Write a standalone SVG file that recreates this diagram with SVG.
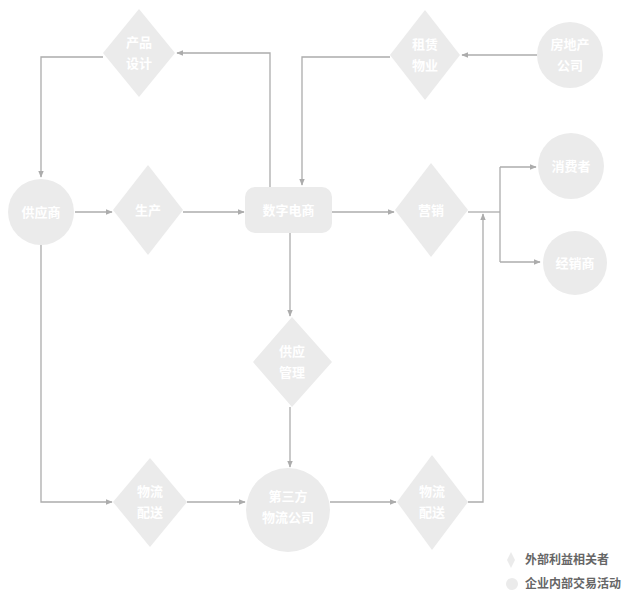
<svg xmlns="http://www.w3.org/2000/svg" width="635" height="592" viewBox="0 0 635 592">
<style>
.n{fill:#ebebeb;stroke:none}
.t{font-family:"Noto Sans CJK SC","Liberation Sans",sans-serif;font-size:13px;font-weight:bold;fill:#ffffff;text-anchor:middle}
.c{fill:none;stroke:#acacac;stroke-width:1.3}
.lg{font-family:"Noto Sans CJK SC","Liberation Sans",sans-serif;font-size:12px;font-weight:bold;fill:#666666}
</style>
<defs>
<marker id="a" viewBox="0 0 10 10" refX="9" refY="5" markerWidth="7" markerHeight="7" orient="auto-start-reverse" markerUnits="userSpaceOnUse">
<path d="M0,1 L10,5 L0,9 z" fill="#acacac"/>
</marker>
</defs>
<rect width="635" height="592" fill="#ffffff"/>
<g id="connectors">
<path class="c" d="M103,57 H41 V177" marker-end="url(#a)"/>
<path class="c" d="M270,187 V53 H177" marker-end="url(#a)"/>
<path class="c" d="M390,57 H302 V185" marker-end="url(#a)"/>
<path class="c" d="M537,55 H462" marker-end="url(#a)"/>
<path class="c" d="M75,212 H112" marker-end="url(#a)"/>
<path class="c" d="M183,212 H244" marker-end="url(#a)"/>
<path class="c" d="M332,212 H394" marker-end="url(#a)"/>
<path class="c" d="M468,212 H500"/>
<path class="c" d="M500,167 V262"/>
<path class="c" d="M500,167 H536" marker-end="url(#a)"/>
<path class="c" d="M500,262 H540" marker-end="url(#a)"/>
<path class="c" d="M290,233 V316" marker-end="url(#a)"/>
<path class="c" d="M290,407 V467" marker-end="url(#a)"/>
<path class="c" d="M41,245 V502 H112" marker-end="url(#a)"/>
<path class="c" d="M187,502 H245" marker-end="url(#a)"/>
<path class="c" d="M330,502 H396" marker-end="url(#a)"/>
<path class="c" d="M468,502 H483 V214" marker-end="url(#a)"/>
</g>
<g id="product-design">
<polygon class="n" points="139,9 175,53 139,97 103,53"/>
<text class="t" x="139" y="47">产品</text>
<text class="t" x="139" y="68">设计</text>
</g>
<g id="lease-property">
<polygon class="n" points="425,10 460,55 425,100 390,55"/>
<text class="t" x="425" y="49">租赁</text>
<text class="t" x="425" y="70">物业</text>
</g>
<g id="property-company">
<circle class="n" cx="570" cy="55" r="33"/>
<text class="t" x="570" y="49">房地产</text>
<text class="t" x="570" y="70">公司</text>
</g>
<g id="supplier">
<circle class="n" cx="41" cy="212" r="33"/>
<text class="t" x="41" y="217">供应商</text>
</g>
<g id="production">
<polygon class="n" points="148,165 183,210 148,255 113,210"/>
<text class="t" x="148" y="215">生产</text>
</g>
<g id="ecommerce">
<rect class="n" x="245" y="187" width="87" height="46" rx="10"/>
<text class="t" x="288.5" y="215">数字电商</text>
</g>
<g id="marketing">
<polygon class="n" points="431,163 468,210 431,257 395,210"/>
<text class="t" x="431" y="215">营销</text>
</g>
<g id="consumer">
<circle class="n" cx="571" cy="166" r="33"/>
<text class="t" x="571" y="171">消费者</text>
</g>
<g id="dealer">
<circle class="n" cx="575" cy="263" r="32"/>
<text class="t" x="575" y="268">经销商</text>
</g>
<g id="supply-management">
<polygon class="n" points="292,317 332,362 292,407 253,362"/>
<text class="t" x="292" y="356">供应</text>
<text class="t" x="292" y="377">管理</text>
</g>
<g id="logistics-1">
<polygon class="n" points="150,458 187,502 150,547 113,502"/>
<text class="t" x="150" y="496">物流</text>
<text class="t" x="150" y="517">配送</text>
</g>
<g id="third-party">
<circle class="n" cx="288" cy="510" r="42"/>
<text class="t" x="288" y="501">第三方</text>
<text class="t" x="288" y="522">物流公司</text>
</g>
<g id="logistics-2">
<polygon class="n" points="432,455 468,502 432,550 397,502"/>
<text class="t" x="432" y="496">物流</text>
<text class="t" x="432" y="517">配送</text>
</g>
<g id="legend">
<polygon class="n" points="511,552 515,560 511,568 507,560" fill="#dcdcdc"/>
<text class="lg" x="525" y="564">外部利益相关者</text>
<circle class="n" cx="512" cy="584" r="6"/>
<text class="lg" x="525" y="588">企业内部交易活动</text>
</g>
</svg>
